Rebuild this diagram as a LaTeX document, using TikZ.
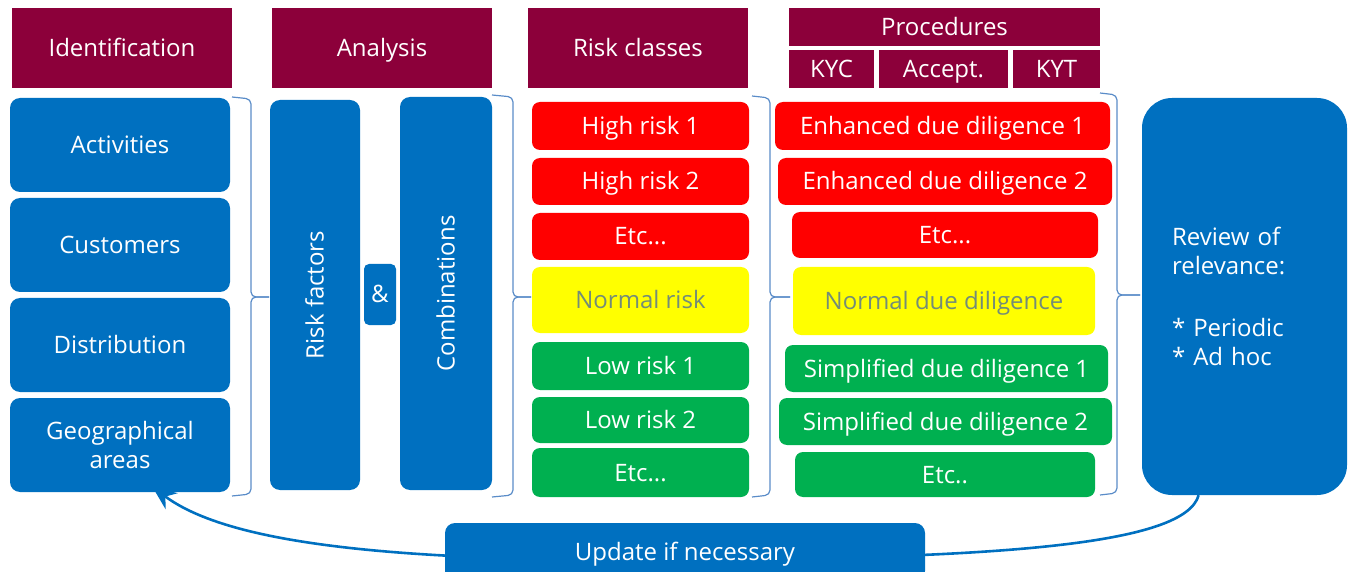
\documentclass[tikz,border=0pt]{standalone}
\usepackage{fontspec}
\setmainfont{Open Sans}
\usetikzlibrary{arrows.meta}
\definecolor{hdrred}{RGB}{140,0,58}
\definecolor{boxblue}{RGB}{0,112,192}
\definecolor{riskred}{RGB}{255,0,0}
\definecolor{riskyellow}{RGB}{255,255,0}
\definecolor{riskgreen}{RGB}{0,176,80}
\definecolor{normtext}{RGB}{115,140,120}
\definecolor{brkblue}{RGB}{90,140,200}

\begin{document}
\begin{tikzpicture}[x=1pt, y=-1pt,
every node/.style={%anchor=base,
    inner sep=1pt, text=white, font=\fontsize{24}{29}\selectfont,
    text height=18, text depth=1
    },
free/.style={text height=, text depth=},
hdr/.style={fill=hdrred},
blk/.style={fill=#1, rounded corners=10},
blk/.default=boxblue,
brk/.style={draw=brkblue, line width=1.2, rounded corners=5},
cycle/.style={draw=boxblue, line width=2.6, -{Stealth[length=24,width=20]}}
]
\useasboundingbox (0,0) rectangle (1353,572);

\node[hdr, minimum width=220, minimum height=80] (hid) at (122,48) {Identification};
\node[hdr, minimum width=220, minimum height=80] (han) at (382,48) {Analysis};
\node[hdr, minimum width=220, minimum height=80] (hrc) at (638,48) {Risk classes};
\node[hdr, minimum width=311, minimum height=38] (hpr) at (944.5,27) {Procedures};
\node[hdr, minimum width=85, minimum height=38] (hkyc) at (831.5,69) {KYC};
\node[hdr, minimum width=129, minimum height=38] (hacc) at (943.5,69) {Accept.};
\node[hdr, minimum width=87, minimum height=38] (hkyt) at (1056.5,69) {KYT};

\foreach \n/\y/\t in {act/145/Activities, cus/245/Customers, dis/345/Distribution}
    \node[blk, minimum width=220, minimum height=94] (\n) at (120,\y) {\t};
\node[blk, free, minimum width=220, minimum height=94, align=center] (geo) at (120,445) {Geographical\\areas};

\node[blk, minimum width=90, minimum height=390] (rf) at (315,295) {};
\node[rotate=90] (rf-txt) at (rf) {Risk factors};
\node[blk, rounded corners=5, minimum width=32, minimum height=61] (amp) at (380,294.5) {\&};
\node[blk, minimum width=92, minimum height=393] (cmb) at (446,293.5) {};
\node[rotate=90] (cmb-txt) at (cmb) {Combinations};

\foreach \n/\y/\h/\c/\t in {hr1/126/48/riskred/High risk 1, hr2/181.5/47/riskred/High risk 2,
                            hr3/236.5/47/riskred/{Etc...}, lr1/366/48/riskgreen/Low risk 1,
                            lr2/420/46/riskgreen/Low risk 2, lr3/472.5/49/riskgreen/{Etc...}}
    \node[blk=\c, rounded corners=8, minimum width=217, minimum height=\h] (\n) at (640.5,\y) {\t};
\node[blk=riskyellow, rounded corners=8, minimum width=217, minimum height=66, text=normtext] (nr) at (640.5,300) {Normal risk};

\foreach \n/\x/\y/\w/\h/\c/\t in {ed1/942.5/126/335/48/riskred/Enhanced due diligence 1,
                                  ed2/945/181.5/334/47/riskred/Enhanced due diligence 2,
                                  ed3/945/235/306/46/riskred/{Etc...},
                                  sd1/946.5/368.5/323/47/riskgreen/Simplified due diligence 1,
                                  sd2/945.5/421.5/333/47/riskgreen/Simplified due diligence 2,
                                  sd3/945/474.5/300/45/riskgreen/{Etc..}}
    \node[blk=\c, rounded corners=8, minimum width=\w, minimum height=\h] (\n) at (\x,\y) {\t};
\node[blk=riskyellow, rounded corners=8, minimum width=302, minimum height=68, text=normtext] (nd) at (944,301) {Normal due diligence};

\node[blk, rounded corners=30, minimum width=205, minimum height=397] (rev) at (1244.5,296.5) {};
\node[free, text width=145, align=left] (rev-txt) at (rev) {Review of\\relevance:\\[33pt]{*} Periodic\\{*} Ad hoc};

\foreach \xa/\xb/\xt/\ya/\ym/\yb in {232/251/269/97/297/496, 492/513/531/95/297/497,
                                     752/770/790/96/297/497, 1100/1117/1140/93/295/495}{
    \draw[brk] (\xa,\ya) -- (\xb,\ya+2) -- (\xb,\ym) -- (\xt,\ym);
    \draw[brk] (\xt,\ym) -- (\xb,\ym) -- (\xb,\yb-2) -- (\xa,\yb);
}

\draw[cycle, shorten >=-9] (rev.-103) .. controls (1185,545) and (1000,558) .. (685,560)
    .. controls (400,562) and (230,545) .. (geo.-50);
\node[blk, minimum width=480, minimum height=58] (upd) at (685,552) {Update if necessary};

\end{tikzpicture}
\end{document}
